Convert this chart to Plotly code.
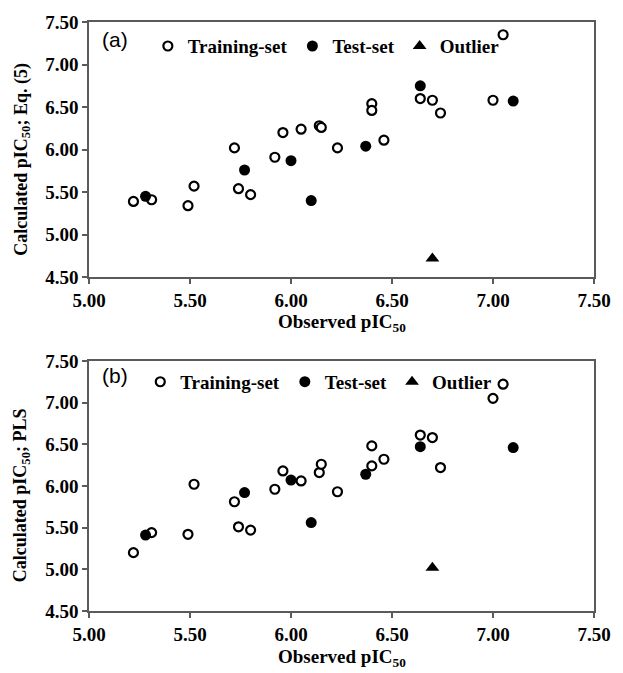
import plotly.graph_objects as go

# ---------------- data ----------------
train_obs = [5.22, 5.31, 5.49, 5.52, 5.72, 5.74, 5.80, 5.92, 5.96, 6.05, 6.14,
             6.15, 6.23, 6.40, 6.40, 6.46, 6.64, 6.70, 6.74, 7.00, 7.05]
train_calc_eq5 = [5.39, 5.41, 5.34, 5.57, 6.02, 5.54, 5.47, 5.91, 6.20, 6.24, 6.28,
                  6.26, 6.02, 6.54, 6.46, 6.11, 6.60, 6.58, 6.43, 6.58, 7.35]
train_calc_pls = [5.20, 5.44, 5.42, 6.02, 5.81, 5.51, 5.47, 5.96, 6.18, 6.06, 6.16,
                  6.26, 5.93, 6.48, 6.24, 6.32, 6.61, 6.58, 6.22, 7.05, 7.22]

test_obs = [5.28, 5.77, 6.00, 6.10, 6.37, 6.64, 7.10]
test_calc_eq5 = [5.45, 5.76, 5.87, 5.40, 6.04, 6.75, 6.57]
test_calc_pls = [5.41, 5.92, 6.07, 5.56, 6.14, 6.47, 6.46]

outlier_obs = [6.70]
outlier_calc_eq5 = [4.72]
outlier_calc_pls = [5.02]

x_tickvals = [5.0, 5.5, 6.0, 6.5, 7.0, 7.5]
x_ticktext = ["5.00", "5.50", "6.00", "6.50", "7.00", "7.50"]
y_tickvals = [4.5, 5.0, 5.5, 6.0, 6.5, 7.0, 7.5]
y_ticktext = ["4.50", "5.00", "5.50", "6.00", "6.50", "7.00", "7.50"]

# ---------------- styling ----------------
SERIF = "Liberation Serif"
SANS = "Liberation Sans"
AX = "#5a5a5a"

fig = go.Figure()

def add_panel(xa, ya, calc_train, calc_test, calc_out, legend):
    fig.add_trace(go.Scatter(
        x=train_obs, y=calc_train, mode="markers", name="Training-set",
        xaxis=xa, yaxis=ya, legend=legend,
        marker=dict(symbol="circle", size=9, color="white",
                    line=dict(color="black", width=2.2))))
    fig.add_trace(go.Scatter(
        x=test_obs, y=calc_test, mode="markers", name="Test-set",
        xaxis=xa, yaxis=ya, legend=legend,
        marker=dict(symbol="circle", size=11, color="black",
                    line=dict(color="black", width=0))))
    fig.add_trace(go.Scatter(
        x=outlier_obs, y=calc_out, mode="markers", name="Outlier",
        xaxis=xa, yaxis=ya, legend=legend,
        marker=dict(symbol="triangle-up", size=12, color="black",
                    line=dict(color="black", width=0))))

add_panel("x", "y", train_calc_eq5, test_calc_eq5, outlier_calc_eq5, "legend")
add_panel("x2", "y2", train_calc_pls, test_calc_pls, outlier_calc_pls, "legend2")

def tickfont():
    return dict(family=SERIF, size=19, color="black", weight="bold")

def bold(labels):
    return ["<b>" + t + "</b>" for t in labels]

def xaxis_cfg(anchor):
    return dict(range=[5.0, 7.5], tickvals=x_tickvals, ticktext=bold(x_ticktext),
                showline=True, mirror=True, linecolor=AX, linewidth=1.5,
                ticks="outside", ticklen=5, tickwidth=1.5, tickcolor=AX,
                showgrid=False, zeroline=False, tickfont=tickfont(),
                anchor=anchor, domain=[0, 1])

def yaxis_cfg(anchor, domain):
    return dict(range=[4.5, 7.5], tickvals=y_tickvals, ticktext=bold(y_ticktext),
                showline=True, mirror=True, linecolor=AX, linewidth=1.5,
                ticks="outside", ticklen=5, tickwidth=1.5, tickcolor=AX,
                showgrid=False, zeroline=False, tickfont=tickfont(),
                anchor=anchor, domain=domain)

legend_common = dict(orientation="h", xanchor="center", yanchor="middle",
                     bgcolor="rgba(0,0,0,0)",
                     font=dict(family=SERIF, size=19, color="black", weight="bold"),
                     itemclick=False, itemdoubleclick=False)

xtitle_font = dict(family=SERIF, size=19, color="black", weight="bold")
ytitle_font = dict(family=SERIF, size=18, color="black", weight="bold")

fig.update_layout(
    width=623, height=673,
    margin=dict(l=89, r=20, t=20, b=62),
    paper_bgcolor="white", plot_bgcolor="white",
    font=dict(family=SERIF, size=19, color="black", weight="bold"),
    xaxis=xaxis_cfg("y"),
    yaxis=yaxis_cfg("x", [0.5668, 1.0]),
    xaxis2=xaxis_cfg("y2"),
    yaxis2=yaxis_cfg("x2", [0.0, 0.4247]),
    legend=dict(x=0.47, y=0.959, **legend_common),
    legend2=dict(x=0.455, y=0.389, **legend_common),
    annotations=[
        dict(text="(a)", x=0.021, y=0.9695, xref="paper", yref="paper",
             xanchor="left", yanchor="middle", showarrow=False,
             font=dict(family=SANS, size=21, color="black", weight="normal")),
        dict(text="(b)", x=0.021, y=0.3993, xref="paper", yref="paper",
             xanchor="left", yanchor="middle", showarrow=False,
             font=dict(family=SANS, size=21, color="black", weight="normal")),
        dict(text="Calculated pIC<sub>50</sub>; Eq. (5)", x=-0.1323, y=0.7665,
             xref="paper", yref="paper", xanchor="center", yanchor="middle",
             textangle=-90, showarrow=False, font=ytitle_font),
        dict(text="Calculated pIC<sub>50</sub>; PLS", x=-0.1323, y=0.197,
             xref="paper", yref="paper", xanchor="center", yanchor="middle",
             textangle=-90, showarrow=False, font=ytitle_font),
        dict(text="Observed pIC<sub>50</sub>", x=0.5, y=0.489,
             xref="paper", yref="paper", xanchor="center", yanchor="middle",
             showarrow=False, font=xtitle_font),
        dict(text="Observed pIC<sub>50</sub>", x=0.5, y=-0.0800,
             xref="paper", yref="paper", xanchor="center", yanchor="middle",
             showarrow=False, font=xtitle_font),
    ],
)

fig.write_html("out.html", config={"displayModeBar": False},
               post_script="document.body.style.margin='0';document.body.style.overflow='hidden';")
